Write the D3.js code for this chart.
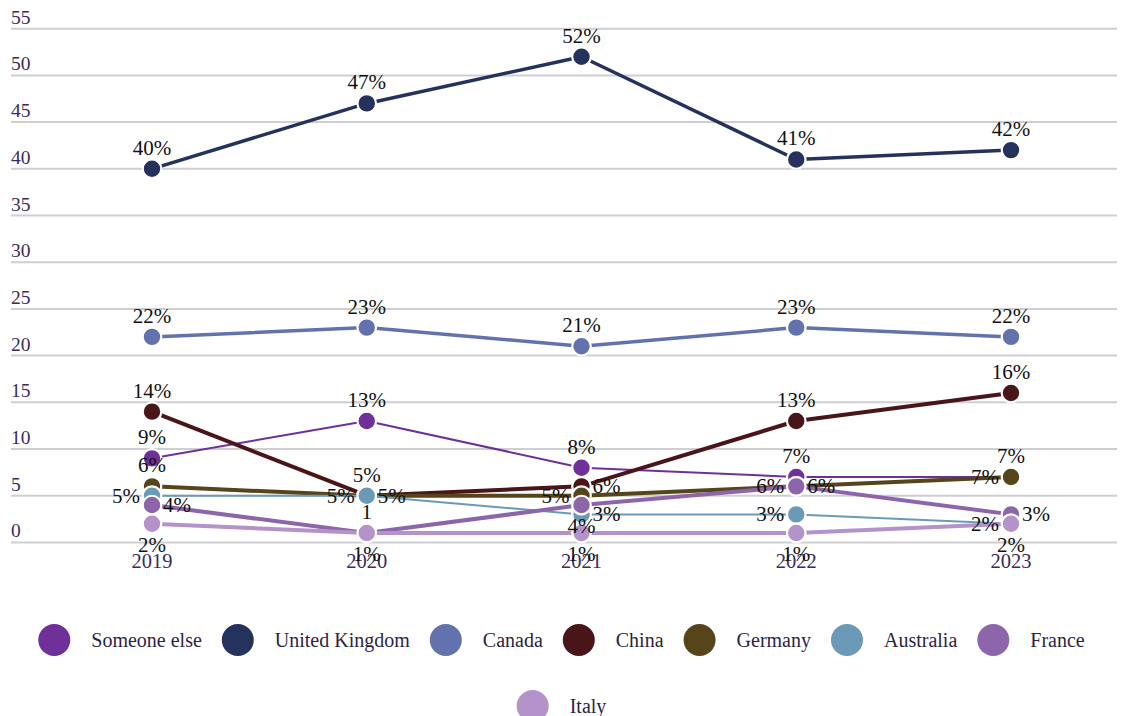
<!DOCTYPE html>
<html><head><meta charset="utf-8">
<script src="https://cdn.jsdelivr.net/npm/d3@7"></script>
<style>body{margin:0;background:#fff}svg{display:block}</style>
</head><body>
<svg id="chart" width="1123" height="716"></svg>
<script>
// ---- data ----
const years = ["2019", "2020", "2021", "2022", "2023"];
const seriesNames = ["Someone else", "United Kingdom", "Canada", "China", "Germany", "Australia", "France", "Italy"];
const someoneElse   = [9, 13, 8, 7, 7];
const unitedKingdom = [40, 47, 52, 41, 42];
const canada        = [22, 23, 21, 23, 22];
const china         = [14, 5, 6, 13, 16];
const germany       = [6, 5, 5, 6, 7];
const australia     = [5, 5, 3, 3, 2];
const france        = [4, 1, 4, 6, 3];
const italy         = [2, 1, 1, 1, 2];
const yTicks = [0, 5, 10, 15, 20, 25, 30, 35, 40, 45, 50, 55];

// ---- styling ----
const colors = ["#70309a", "#26325e", "#6272af", "#4a1518", "#56451b", "#6b9ab8", "#8d65aa", "#b393c9"];
const lineWidths = [2, 3.5, 3.5, 4, 4, 2, 4, 4];
// label side per point: t=top, l=left, r=right, b=bottom
const labelSides = [
  ["t","t","t","t","t"],
  ["t","t","t","t","t"],
  ["t","t","t","t","t"],
  ["t","t","r","t","t"],
  ["t","l","l","l","l"],
  ["l","r","r","l","l"],
  ["r","t","b","r","r"],
  ["b","b","b","b","b"]
];
const labelTextOverrides = { "France|2020": "1" };

const allValues = [someoneElse, unitedKingdom, canada, china, germany, australia, france, italy];
const series = seriesNames.map((name, i) => ({
  name, color: colors[i], width: lineWidths[i],
  points: years.map((y, j) => ({ year: y, value: allValues[i][j], side: labelSides[i][j] }))
}));

const svg = d3.select("#chart");
const serif = "'Liberation Serif', 'DejaVu Serif', serif";

const x = d3.scalePoint().domain(years).range([152, 1011]);
const y = d3.scaleLinear().domain([0, 55]).range([542.4, 28.7]);
const gridLeft = 11, gridRight = 1117;

// gridlines + y labels
const yAxis = svg.append("g");
yAxis.selectAll("line").data(yTicks).join("line")
  .attr("x1", gridLeft).attr("x2", gridRight)
  .attr("y1", d => y(d)).attr("y2", d => y(d))
  .attr("stroke", "#d0ced5").attr("stroke-width", 2);
yAxis.selectAll("text").data(yTicks).join("text")
  .attr("x", gridLeft).attr("y", d => y(d) - 5)
  .attr("font-family", serif).attr("font-size", 19.5)
  .attr("fill", "#3b2d5a")
  .text(d => d);

// x labels
svg.append("g").selectAll("text").data(years).join("text")
  .attr("x", d => x(d)).attr("y", 568)
  .attr("text-anchor", "middle")
  .attr("font-family", serif).attr("font-size", 20.5)
  .attr("fill", "#3b2d5a")
  .text(d => d);

// lines and dots
const line = d3.line().x(d => x(d.year)).y(d => y(d.value));
series.forEach(s => {
  const g = svg.append("g");
  g.append("path").datum(s.points)
    .attr("d", line).attr("fill", "none")
    .attr("stroke", s.color).attr("stroke-width", s.width)
    .attr("stroke-linejoin", "round");
  g.selectAll("circle").data(s.points).join("circle")
    .attr("cx", d => x(d.year)).attr("cy", d => y(d.value))
    .attr("r", 9.3).attr("fill", s.color)
    .attr("stroke", "#fff").attr("stroke-width", 2.2);
});

// data labels
const labels = svg.append("g")
  .attr("font-family", serif).attr("font-size", 21).attr("fill", "#111");
series.forEach(s => {
  s.points.forEach(p => {
    const cx = x(p.year), cy = y(p.value);
    const txt = labelTextOverrides[s.name + "|" + p.year] || (p.value + "%");
    const t = labels.append("text").text(txt);
    if (p.side === "t") t.attr("x", cx).attr("y", cy - 14).attr("text-anchor", "middle");
    else if (p.side === "b") t.attr("x", cx).attr("y", cy + 28).attr("text-anchor", "middle");
    else if (p.side === "l") t.attr("x", cx - 12).attr("y", cy + 7).attr("text-anchor", "end");
    else t.attr("x", cx + 11).attr("y", cy + 7).attr("text-anchor", "start");
  });
});

// legend
const legend = svg.append("g");
const legendFont = 20, legendR = 16, gapText = 21, gapItem = 20, maxRow = 1080;
const items = series.map(s => {
  const t = legend.append("text").text(s.name)
    .attr("font-family", serif).attr("font-size", legendFont).attr("fill", "#2e1f45");
  const w = t.node().getComputedTextLength();
  return { s, t, w: legendR * 2 + gapText + w };
});
const rows = [[]];
let cur = 0;
items.forEach(it => {
  const add = (rows[rows.length - 1].length ? gapItem : 0) + it.w;
  if (cur + add > maxRow && rows[rows.length - 1].length) { rows.push([it]); cur = it.w; }
  else { rows[rows.length - 1].push(it); cur += add; }
});
rows.forEach((row, ri) => {
  const total = d3.sum(row, d => d.w) + gapItem * (row.length - 1);
  let xx = 1123 / 2 - total / 2;
  const cy = 640 + ri * 66;
  row.forEach(it => {
    legend.append("circle").attr("cx", xx + legendR).attr("cy", cy).attr("r", legendR).attr("fill", it.s.color);
    it.t.attr("x", xx + legendR * 2 + gapText).attr("y", cy + 7);
    xx += it.w + gapItem;
  });
});
</script>
</body></html>
